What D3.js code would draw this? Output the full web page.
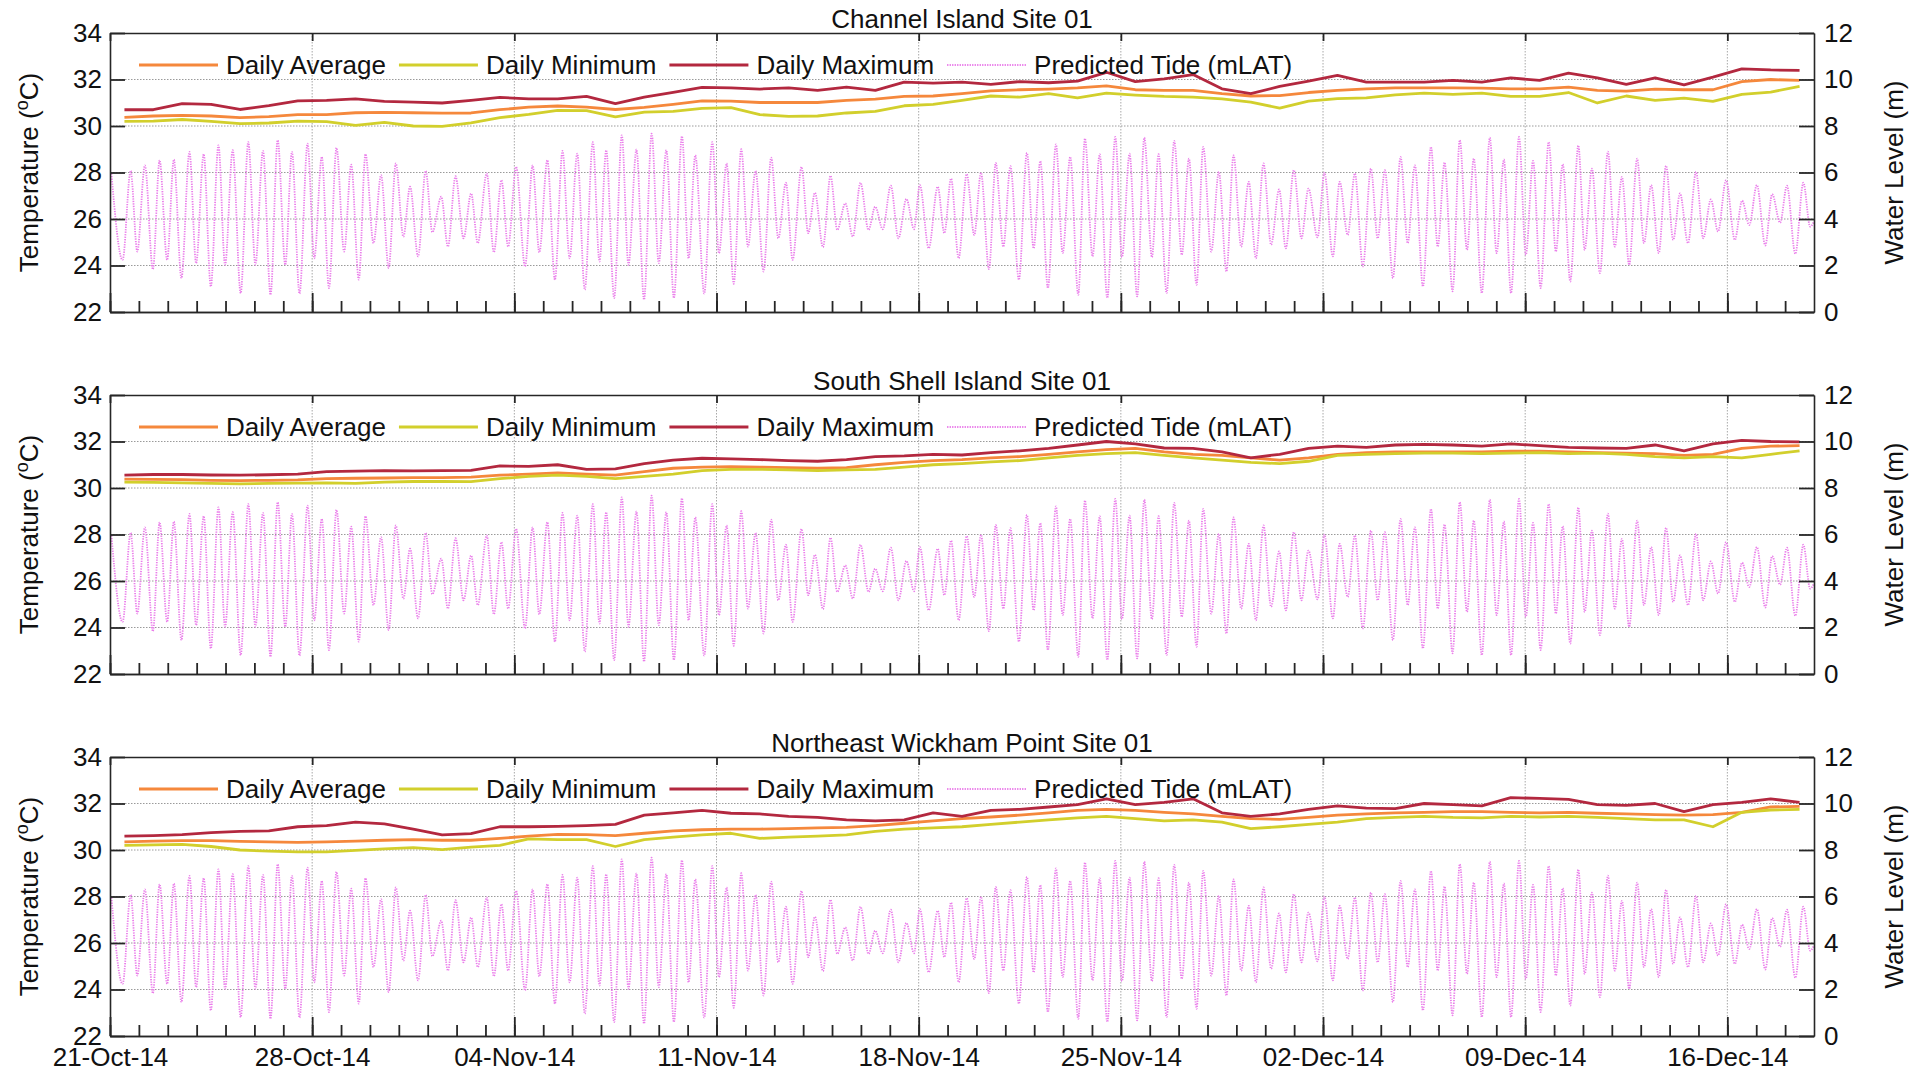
<!DOCTYPE html>
<html>
<head>
<meta charset="utf-8">
<script src="https://cdn.jsdelivr.net/npm/d3@7"></script>
<style>
  body { margin: 0; background: #fff; }
  svg text { font-family: "Liberation Sans", Arial, Helvetica, sans-serif; fill: #111; }
</style>
</head>
<body>
<svg id="chart" width="1928" height="1075"></svg>
<script>
// ---- Sites and daily logger statistics (one value per day, 21-Oct-14 .. 18-Dec-14) ----
const siteNames = ["Channel Island Site 01", "South Shell Island Site 01", "Northeast Wickham Point Site 01"];
const firstDay = "2014-10-21";
const lastDay = "2014-12-19";

const ciAvg = [30.37,30.43,30.46,30.43,30.36,30.40,30.49,30.49,30.57,30.59,30.57,30.55,30.56,30.70,30.81,30.86,30.81,30.71,30.80,30.93,
  31.08,31.07,31.01,31.01,31.01,31.10,31.16,31.27,31.29,31.39,31.51,31.56,31.59,31.64,31.73,31.56,31.53,31.53,31.39,31.29,
  31.31,31.44,31.53,31.60,31.64,31.64,31.64,31.63,31.60,31.60,31.67,31.53,31.50,31.59,31.56,31.56,31.91,32.00,31.96];
const ciMin = [30.20,30.21,30.28,30.20,30.10,30.13,30.21,30.19,30.03,30.16,30.00,29.98,30.13,30.36,30.50,30.67,30.66,30.39,30.60,30.63,
  30.76,30.79,30.49,30.41,30.43,30.56,30.63,30.87,30.93,31.10,31.29,31.24,31.39,31.21,31.41,31.33,31.27,31.24,31.17,31.03,
  30.77,31.07,31.18,31.21,31.34,31.41,31.36,31.41,31.27,31.27,31.44,30.99,31.29,31.10,31.20,31.06,31.36,31.46,31.70];
const ciMax = [30.70,30.70,30.96,30.93,30.71,30.88,31.08,31.10,31.17,31.06,31.03,30.99,31.10,31.23,31.17,31.17,31.27,30.96,31.24,31.45,
  31.66,31.64,31.59,31.64,31.53,31.67,31.53,31.89,31.84,31.89,31.79,31.91,31.86,31.93,32.31,31.91,32.03,32.21,31.60,31.39,
  31.70,31.93,32.18,31.89,31.89,31.89,31.96,31.89,32.07,31.96,32.27,32.07,31.79,32.07,31.77,32.10,32.46,32.41,32.39];

const ssAvg = [30.38,30.37,30.36,30.33,30.32,30.33,30.35,30.40,30.42,30.43,30.45,30.45,30.47,30.55,30.60,30.65,30.60,30.55,30.70,30.85,
  30.90,30.92,30.90,30.88,30.85,30.88,31.00,31.10,31.18,31.22,31.30,31.35,31.45,31.55,31.65,31.70,31.55,31.45,31.40,31.30,
  31.20,31.30,31.45,31.52,31.55,31.55,31.55,31.55,31.58,31.58,31.55,31.52,31.50,31.48,31.40,31.45,31.70,31.80,31.82];
const ssMin = [30.25,30.24,30.22,30.20,30.18,30.20,30.21,30.22,30.20,30.25,30.28,30.28,30.27,30.40,30.50,30.55,30.50,30.40,30.50,30.60,
  30.75,30.80,30.80,30.78,30.75,30.78,30.80,30.90,31.00,31.05,31.12,31.18,31.30,31.40,31.48,31.52,31.40,31.30,31.20,31.10,
  31.05,31.15,31.40,31.45,31.48,31.50,31.50,31.48,31.50,31.52,31.48,31.50,31.45,31.35,31.30,31.35,31.30,31.45,31.60];
const ssMax = [30.55,30.58,30.58,30.56,30.55,30.57,30.60,30.70,30.73,30.75,30.74,30.75,30.76,30.95,30.93,31.00,30.80,30.82,31.05,31.20,
  31.28,31.25,31.22,31.18,31.15,31.22,31.35,31.38,31.45,31.42,31.52,31.60,31.70,31.85,32.00,31.90,31.72,31.70,31.55,31.30,
  31.45,31.70,31.80,31.75,31.85,31.88,31.85,31.80,31.90,31.82,31.75,31.72,31.70,31.85,31.60,31.90,32.05,32.00,31.98];

const nwAvg = [30.35,30.38,30.40,30.40,30.37,30.35,30.33,30.35,30.38,30.42,30.45,30.42,30.42,30.50,30.60,30.67,30.66,30.62,30.72,30.82,
  30.87,30.90,30.90,30.92,30.95,30.97,31.05,31.15,31.25,31.35,31.42,31.50,31.60,31.70,31.75,31.70,31.62,31.55,31.45,31.35,
  31.32,31.40,31.50,31.55,31.60,31.62,31.65,31.65,31.62,31.60,31.62,31.58,31.55,31.52,31.50,31.52,31.62,31.85,31.88];
const nwMin = [30.20,30.22,30.24,30.15,30.00,29.95,29.92,29.92,29.98,30.05,30.10,30.02,30.12,30.20,30.48,30.45,30.45,30.15,30.45,30.55,
  30.65,30.72,30.50,30.55,30.60,30.65,30.80,30.90,30.95,31.00,31.10,31.20,31.30,31.38,31.45,31.35,31.25,31.30,31.20,30.92,
  31.00,31.10,31.20,31.35,31.40,31.45,31.40,31.38,31.45,31.42,31.45,31.40,31.35,31.30,31.30,31.00,31.62,31.72,31.75];
const nwMax = [30.60,30.62,30.66,30.75,30.80,30.82,31.00,31.05,31.20,31.12,30.90,30.65,30.70,31.00,31.00,31.02,31.05,31.10,31.50,31.60,
  31.70,31.58,31.55,31.45,31.40,31.30,31.25,31.30,31.60,31.45,31.70,31.75,31.85,31.95,32.20,31.95,32.05,32.20,31.60,31.45,
  31.55,31.75,31.90,31.80,31.78,32.00,31.95,31.90,32.25,32.22,32.18,31.95,31.92,32.00,31.65,31.95,32.05,32.20,32.05];

// ---- Predicted tide turning points: time (days after 21-Oct-14 00:00) and level (m LAT) ----
const tideDay = [0.05,0.436,0.714,0.945,1.207,1.485,1.717,1.979,2.211,2.473,2.751,2.982,3.244,3.491,3.754,3.985,4.248,4.525,4.788,5.035,
  5.297,5.559,5.806,6.069,6.300,6.562,6.840,7.072,7.334,7.581,7.843,8.106,8.352,8.615,8.846,9.124,9.386,9.649,9.896,10.158,
  10.390,10.667,10.930,11.161,11.470,11.701,11.964,12.241,12.504,12.735,13.044,13.291,13.553,13.785,14.062,14.371,14.633,14.865,15.143,15.405,
  15.667,15.914,16.177,16.439,16.717,16.948,17.180,17.457,17.720,17.951,18.229,18.491,18.754,19.001,19.263,19.525,19.803,20.035,20.266,
  20.575,20.853,21.085,21.348,21.595,21.858,22.090,22.352,22.630,22.893,23.140,23.403,23.635,23.944,24.176,24.408,24.686,24.949,25.180,25.459,
  25.721,25.984,26.262,26.494,26.757,27.035,27.298,27.576,27.839,28.040,28.349,28.658,28.890,29.121,29.384,29.662,29.925,30.157,30.435,30.667,
  30.930,31.177,31.470,31.748,31.980,32.212,32.475,32.753,32.985,33.247,33.525,33.757,34.020,34.267,34.530,34.808,35.040,35.302,35.565,35.812,
  36.075,36.307,36.585,36.848,37.110,37.358,37.620,37.852,38.130,38.393,38.656,38.903,39.166,39.429,39.676,39.939,40.202,40.480,40.711,40.990,
  41.253,41.495,41.810,42.050,42.340,42.576,42.854,43.103,43.380,43.658,43.893,44.143,44.420,44.684,44.933,45.183,45.460,45.737,45.973,46.209,
  46.486,46.736,46.985,47.221,47.498,47.775,48.011,48.261,48.510,48.787,49.023,49.273,49.536,49.813,50.063,50.299,50.562,50.839,51.061,51.311,
  51.588,51.865,52.101,52.350,52.600,52.877,53.113,53.363,53.626,53.876,54.125,54.361,54.638,54.915,55.165,55.428,55.678,55.955,56.260,56.510,
  56.759,57.023,57.314,57.550,57.827,58.063,58.354,58.631,58.866,59.000];
const tideLevel = [5.96,2.24,6.07,2.60,6.31,1.84,6.53,2.24,6.56,1.46,6.89,2.10,6.79,1.10,7.17,2.03,6.96,0.81,7.31,2.03,
  6.93,0.74,7.39,2.03,6.89,0.79,7.24,2.31,6.67,1.03,7.06,2.60,6.34,1.39,6.79,2.96,5.89,1.89,6.39,3.24,
  5.39,2.39,6.07,3.43,4.96,2.81,5.84,3.17,5.10,2.96,5.96,2.57,5.67,2.81,6.24,1.96,6.31,2.56,6.53,1.39,
  6.93,2.31,6.81,0.96,7.31,2.17,6.96,0.60,7.60,2.03,6.99,0.53,7.67,2.10,6.96,0.60,7.56,2.31,6.74,
  0.79,7.31,2.53,6.39,1.21,7.00,2.81,6.07,1.74,6.64,3.17,5.56,2.24,6.24,3.39,5.13,2.79,5.86,3.53,4.67,
  3.24,5.56,3.53,4.53,3.56,5.43,3.17,4.86,3.56,5.46,2.74,5.39,3.39,5.74,2.31,5.93,3.31,5.99,1.84,6.41,
  2.81,6.27,1.39,6.84,2.74,6.49,1.03,7.21,2.53,6.67,0.74,7.46,2.39,6.79,0.60,7.53,2.36,6.81,0.67,7.50,
  2.36,6.79,0.81,7.36,2.46,6.60,1.17,7.10,2.60,6.03,1.74,6.74,2.81,5.60,2.31,6.39,2.89,5.27,2.74,6.10,
  3.17,5.31,3.21,5.99,2.39,5.60,3.31,5.96,1.96,6.17,3.17,6.10,1.46,6.67,2.96,6.31,1.10,7.10,2.81,6.43,
  0.89,7.39,2.67,6.60,0.81,7.50,2.53,6.56,0.81,7.53,2.46,6.50,1.03,7.31,2.60,6.36,1.31,7.16,2.67,6.17,
  1.67,6.90,2.81,5.81,2.03,6.60,2.96,5.46,2.53,6.29,3.10,5.10,2.96,6.03,3.17,4.84,3.46,5.67,3.10,4.79,
  3.74,5.46,2.86,5.07,3.84,5.43,2.50,5.56,3.67,3.90];

// ---- Axis ticks and legend ----
const tempTicks = [22, 24, 26, 28, 30, 32, 34];
const levelTicks = [0, 2, 4, 6, 8, 10, 12];
const weekLabels = ["21-Oct-14","28-Oct-14","04-Nov-14","11-Nov-14","18-Nov-14","25-Nov-14","02-Dec-14","09-Dec-14","16-Dec-14"];
const seriesNames = ["Daily Average", "Daily Minimum", "Daily Maximum", "Predicted Tide (mLAT)"];
const seriesColors = ["#f5883c", "#d2cf2c", "#b3283f", "#ea7eea"];

const siteSeries = [
  [ciAvg, ciMin, ciMax],
  [ssAvg, ssMin, ssMax],
  [nwAvg, nwMin, nwMax]
];

// ---- Layout ----
const svg = d3.select("#chart");
const left = 110, right = 1814;
const PW = right - left, PH = 279;
const panelTops = [33, 395, 757];
const FONT = 26;
const DAY = 864e5;

const parse = d3.utcParse("%Y-%m-%d");
const start = parse(firstDay), end = parse(lastDay);
const parseTick = d3.utcParse("%d-%b-%y");
const fmtTick = d3.utcFormat("%d-%b-%y");
const weekTicks = weekLabels.map(parseTick);
const dayTicks = d3.utcDay.range(start, end);

const x = d3.scaleUtc().domain([start, end]).range([0, PW]);
const yT = d3.scaleLinear().domain([22, 34]).range([PH, 0]);
const yW = d3.scaleLinear().domain([0, 12]).range([PH, 0]);

const dayMid = i => new Date(start.getTime() + (i + 0.5) * DAY);
const tidePts = tideDay.map((t, i) => [new Date(start.getTime() + t * DAY), tideLevel[i]]);

const tempLine = d3.line().x((v, i) => x(dayMid(i))).y(v => yT(v));
const tideLine = d3.line().x(d => x(d[0])).y(d => yW(d[1])).curve(d3.curveMonotoneX);

function styleAxis(g) {
  g.select(".domain").attr("stroke", "#262626").attr("stroke-width", 1.6);
  g.selectAll(".tick line").attr("stroke", "#262626").attr("stroke-width", 1.8);
  g.selectAll(".tick text").attr("font-size", FONT).attr("fill", "#111");
}

siteNames.forEach((name, p) => {
  const top = panelTops[p];
  const g = svg.append("g").attr("transform", `translate(${left},${top})`);

  const clipId = "clip" + p;
  g.append("clipPath").attr("id", clipId)
    .append("rect").attr("width", PW).attr("height", PH);

  // grid
  const grid = g.append("g");
  grid.selectAll("line.h").data(tempTicks.slice(1, -1)).join("line")
    .attr("x1", 0).attr("x2", PW)
    .attr("y1", d => yT(d)).attr("y2", d => yT(d))
    .attr("stroke", "#9a9a9a").attr("stroke-width", 1).attr("stroke-dasharray", "1.5,1.5");
  grid.selectAll("line.v").data(weekTicks.slice(1)).join("line")
    .attr("x1", d => x(d)).attr("x2", d => x(d))
    .attr("y1", 0).attr("y2", PH)
    .attr("stroke", "#a8a8a8").attr("stroke-width", 1).attr("stroke-dasharray", "1.5,1.5");

  // predicted tide (right axis)
  g.append("path").datum(tidePts)
    .attr("clip-path", `url(#${clipId})`)
    .attr("d", tideLine)
    .attr("fill", "none")
    .attr("stroke", seriesColors[3])
    .attr("stroke-width", 1.8)
    .attr("stroke-dasharray", "1.3,1.2");

  // temperature series
  siteSeries[p].forEach((vals, k) => {
    g.append("path").datum(vals)
      .attr("d", tempLine)
      .attr("fill", "none")
      .attr("stroke", seriesColors[k])
      .attr("stroke-width", 2.8)
      .attr("stroke-linejoin", "round");
  });

  // axes
  const ax = g.append("g");
  ax.append("g").call(d3.axisLeft(yT).tickValues(tempTicks).tickSize(-15).tickSizeOuter(0).tickPadding(8))
    .call(styleAxis);
  ax.append("g").attr("transform", `translate(${PW},0)`)
    .call(d3.axisRight(yW).tickValues(levelTicks).tickSize(-15).tickSizeOuter(0).tickPadding(10))
    .call(styleAxis);
  ax.append("g").call(d3.axisTop(x).tickValues(weekTicks).tickSize(-8).tickSizeOuter(0).tickFormat(""))
    .call(styleAxis);
  ax.append("g").attr("transform", `translate(0,${PH})`)
    .call(d3.axisBottom(x).tickValues(dayTicks).tickSize(-11).tickSizeOuter(0).tickFormat(""))
    .call(styleAxis);
  ax.append("g").attr("transform", `translate(0,${PH})`)
    .call(d3.axisBottom(x).tickValues(weekTicks).tickSize(-19).tickSizeOuter(0).tickPadding(12)
      .tickFormat(p === siteNames.length - 1 ? fmtTick : ""))
    .call(styleAxis);

  // legend
  const lg = g.append("g");
  let lx = 29;
  seriesNames.forEach((s, k) => {
    const ln = lg.append("line")
      .attr("x1", lx).attr("x2", lx + 79).attr("y1", 32).attr("y2", 32)
      .attr("stroke", seriesColors[k]);
    if (k === 3) ln.attr("stroke-width", 1.8).attr("stroke-dasharray", "1.3,1.2");
    else ln.attr("stroke-width", 2.8);
    const t = lg.append("text").attr("x", lx + 87).attr("y", 41)
      .attr("font-size", FONT).text(s);
    lx += 87 + t.node().getComputedTextLength() + 13;
  });

  // title
  g.append("text").attr("x", PW / 2).attr("y", -5)
    .attr("text-anchor", "middle").attr("font-size", FONT).text(name);

  // axis titles
  const yl = g.append("text")
    .attr("transform", `translate(${38 - left},${PH / 2}) rotate(-90)`)
    .attr("text-anchor", "middle").attr("font-size", FONT);
  yl.append("tspan").text("Temperature (");
  yl.append("tspan").attr("dy", -10).attr("font-size", 18).text("o");
  yl.append("tspan").attr("dy", 10).text("C)");

  g.append("text")
    .attr("transform", `translate(${1903 - left},${PH / 2}) rotate(-90)`)
    .attr("text-anchor", "middle").attr("font-size", FONT).text("Water Level (m)");
});
</script>
</body>
</html>
